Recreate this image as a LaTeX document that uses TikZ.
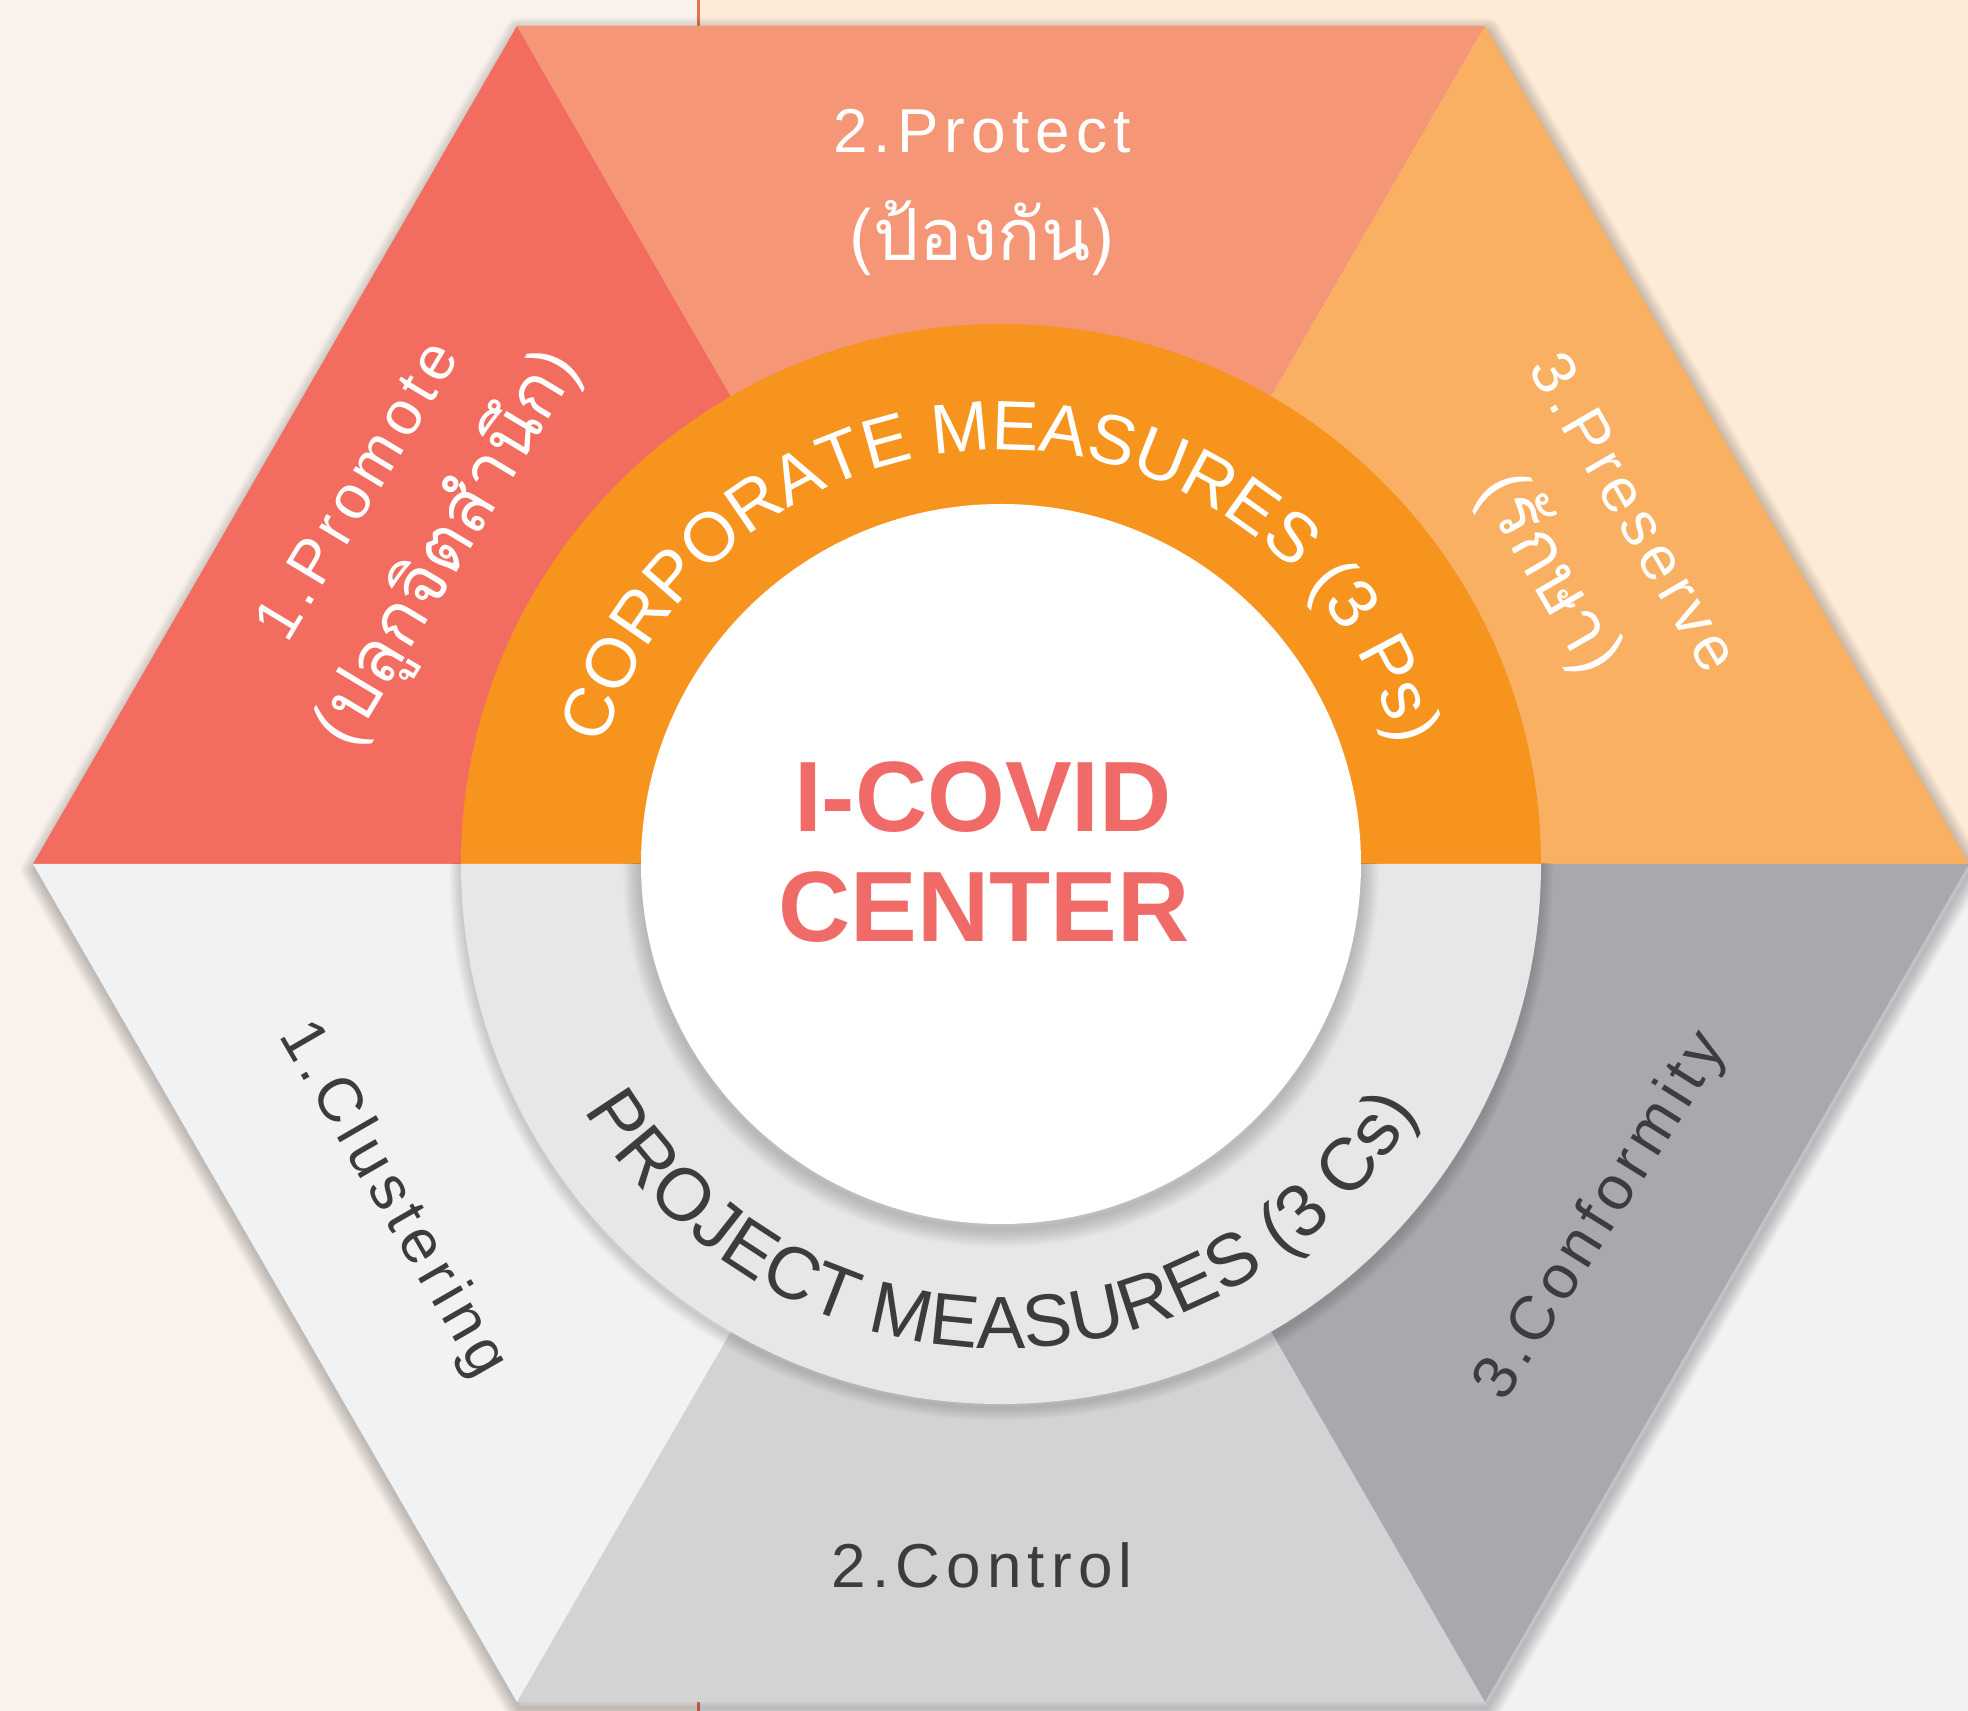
\documentclass[tikz,border=0pt]{standalone}
\usepackage{fontspec}
\setmainfont{Liberation Sans}
\newfontfamily\thaifont[Script=Thai]{Loma}
\newfontfamily\spacedfont[LetterSpace=10]{Liberation Sans}
\usetikzlibrary{decorations.text}
\definecolor{bgleft}{HTML}{F9F2EC}
\definecolor{bgpeach}{HTML}{FDEBD7}
\definecolor{bggray}{HTML}{F1F2F4}
\definecolor{cRed}{HTML}{F26D5F}
\definecolor{cPeach}{HTML}{F59676}
\definecolor{cLOr}{HTML}{F9B062}
\definecolor{cOrange}{HTML}{F6941E}
\definecolor{cGa}{HTML}{F1F2F4}
\definecolor{cGb}{HTML}{D1D3D4}
\definecolor{cGc}{HTML}{A7A9AC}
\definecolor{cRing}{HTML}{E6E7E8}
\definecolor{cCenter}{HTML}{F06B68}
\definecolor{cDark}{HTML}{3C3C3E}
\definecolor{cLine}{HTML}{E5714F}
\newcommand\sidetxt{\spacedfont\fontsize{31}{36}\selectfont}
\newcommand\thaitxt{\thaifont\fontsize{36}{40}\selectfont}
\newcommand\ringtop{\fontsize{35}{40}\selectfont\color{white}}
\newcommand\ringbot{\fontsize{37}{42}\selectfont\color{cDark}}
\newcommand\centertxt{\bfseries\fontsize{50}{56}\selectfont}
\begin{document}
\begin{tikzpicture}[x=0.5pt,y=0.5pt,
  lighttxt/.style={white,inner sep=0pt},
  darktxt/.style={cDark,inner sep=0pt},
  shadowline/.style={black,opacity=0.025,line join=round}]
\useasboundingbox (-1001,-847) rectangle (967,864);
% background
\fill[bgleft] (-1001,-847) rectangle (967,864);
\fill[bgpeach] (-302,0) rectangle (967,864);
\fill[bggray] (-302,-847) rectangle (967,0);
\draw[cLine,line width=1.5pt] (-302,864) -- (-302,838);
\draw[cLine,line width=1.5pt] (-302,-838) -- (-302,-847);
% hexagon shadow
\foreach \w in {1,...,10}
  \draw[shadowline,line width=\w*1.4pt] (2,-6) ++(968,0) -- ++(-484,838) -- ++(-968,0) -- ++(-484,-838) -- ++(484,-838) -- ++(968,0) -- cycle;
% hexagon sectors
\fill[cRed] (0,0) -- (-968,0) -- (-484,838) -- cycle;
\fill[cPeach] (0,0) -- (-484,838) -- (484,838) -- cycle;
\fill[cLOr] (0,0) -- (484,838) -- (968,0) -- cycle;
\fill[cGa] (0,0) -- (-968,0) -- (-484,-838) -- cycle;
\fill[cGb] (0,0) -- (-484,-838) -- (484,-838) -- cycle;
\fill[cGc] (0,0) -- (484,-838) -- (968,0) -- cycle;
% ring shadow (lower half)
\begin{scope}
  \clip (-968,0) rectangle (968,-838);
  \foreach \w in {1,...,8}
    \draw[black,opacity=0.018,line width=\w*1.5pt] (0,-4) circle[radius=540];
\end{scope}
% ring
\fill[cOrange] (540,0) arc[start angle=0,end angle=180,radius=540] -- cycle;
\fill[cRing] (-540,0) arc[start angle=180,end angle=360,radius=540] -- cycle;
% inner shadow
\begin{scope}
  \clip (-540,0) rectangle (540,-540);
  \foreach \w in {1,...,10}
    \draw[black,opacity=0.018,line width=\w*1.8pt] (0,-5) circle[radius=360];
\end{scope}
\fill[white] (0,0) circle[radius=360];
% ring texts
\path[decorate,decoration={text along path,text align=center,
  text={|\ringtop|CORPORATE MEASURES (3 Ps)}}]
  (-414,0) arc[start angle=180,end angle=0,radius=414];
\path[decorate,decoration={text along path,text align=center,
  text={|\ringbot|PROJECT MEASURES (3 Cs)}}]
  (-484,0) arc[start angle=180,end angle=360,radius=484];
% center
\node[cCenter,inner sep=0pt,anchor=base] (icovid) at (-18,32) {\centertxt I-COVID};
\node[cCenter,inner sep=0pt,anchor=base] (center) at (-17,-78) {\centertxt CENTER};
% top sectors
\node[lighttxt,anchor=base] (protect) at (-19,711) {\sidetxt 2.Protect};
\node[lighttxt] (protectth) at (-19,626) {\thaitxt (ป้องกัน)};
\node[lighttxt,rotate=59] (promote) at (-645,374) {\sidetxt 1.Promote};
\node[lighttxt,rotate=59] (promoteth) at (-553,316) {\thaitxt (ปลูกจิตสำนึก)};
\node[lighttxt,rotate=-60] (preserve) at (634,352) {\sidetxt 3.Preserve};
\node[lighttxt,rotate=-60] (preserveth) at (549,291) {\thaitxt (รักษา)};
% bottom sectors
\node[darktxt,rotate=-60] (clustering) at (-609,-336) {\sidetxt 1.Clustering};
\node[darktxt,rotate=58] (conformity) at (601,-353) {\sidetxt 3.Conformity};
\node[darktxt] (control) at (-19,-701) {\sidetxt 2.Control};
\end{tikzpicture}
\end{document}
